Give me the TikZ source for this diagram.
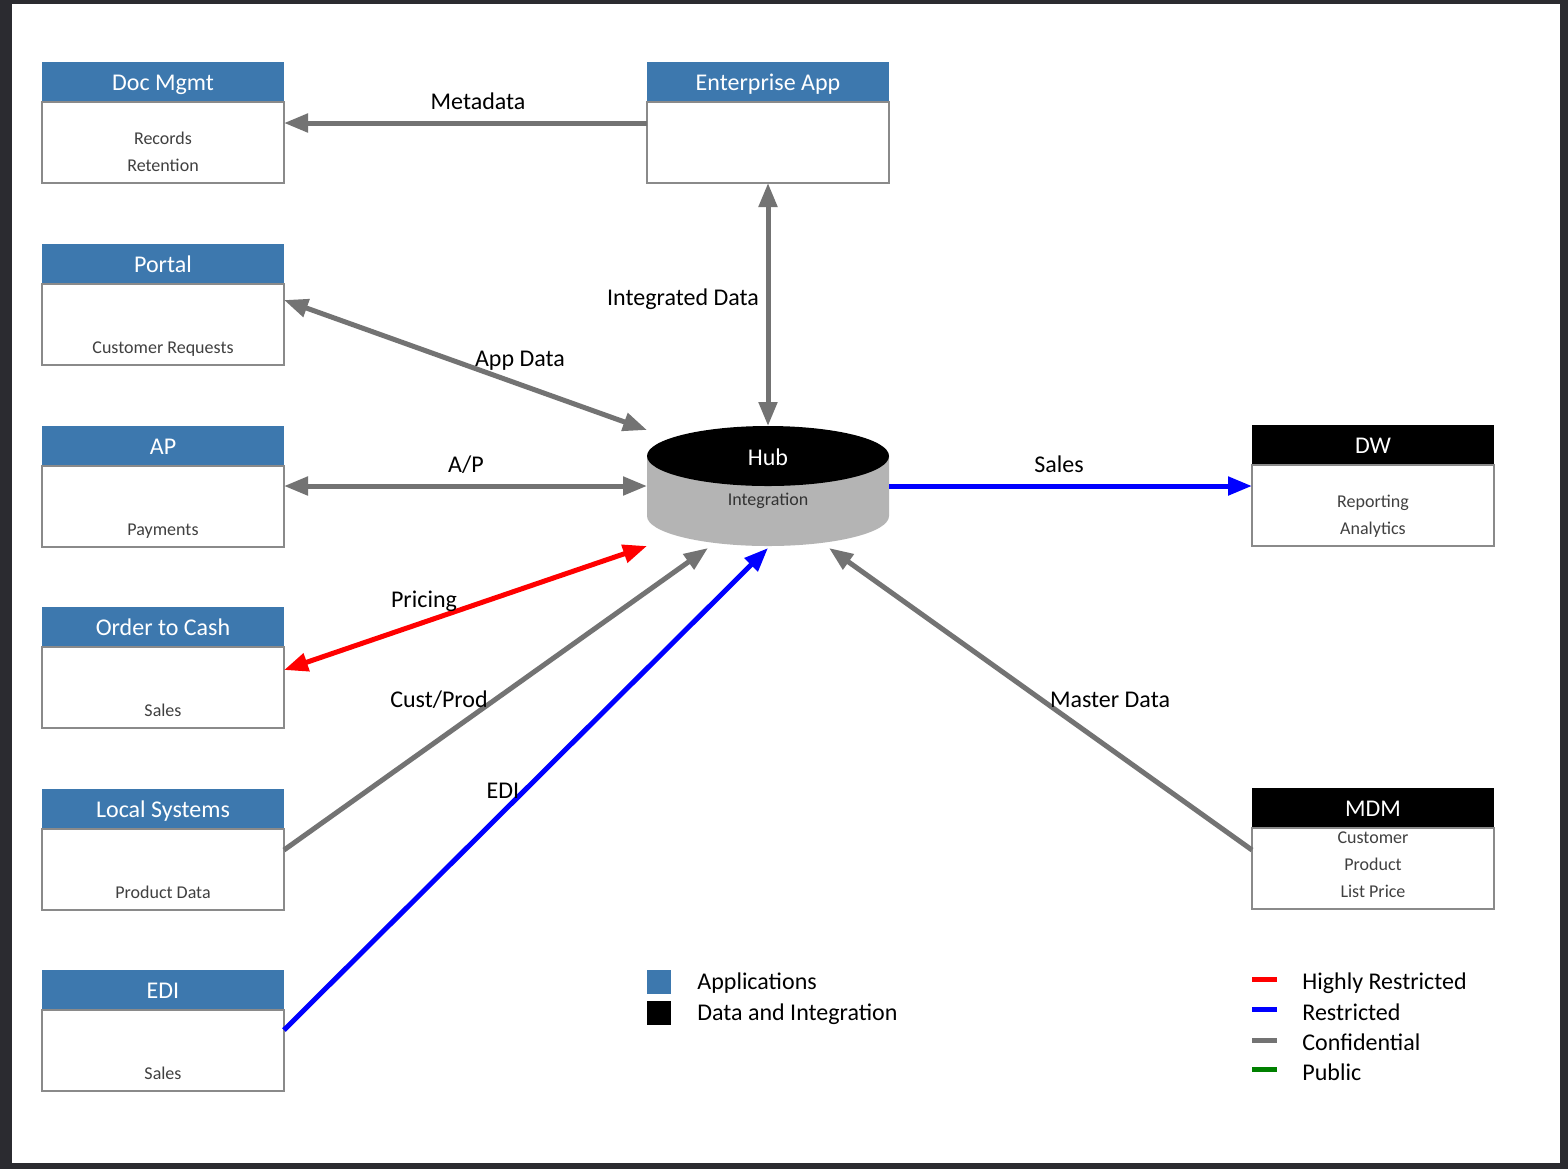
\documentclass[tikz,border=0pt]{standalone}
\usepackage{fontspec}
\setmainfont{Carlito}
\usepackage{tikz}
\usetikzlibrary{positioning,arrows.meta,calc}

\definecolor{appblue}{HTML}{3D78AE}
\definecolor{boxline}{HTML}{8A8A8A}
\definecolor{flowgray}{HTML}{737373}
\definecolor{hubgray}{HTML}{B4B4B4}
\definecolor{txtgray}{HTML}{404040}
\definecolor{framegray}{HTML}{2B2B30}
\definecolor{pubgreen}{HTML}{008000}

\tikzstyle{oneway} = [line width=2.5pt, -{Triangle[length=12pt,width=9pt]}]
\tikzstyle{twoway} = [line width=2.5pt, {Triangle[length=12pt,width=9pt]}-{Triangle[length=12pt,width=9pt]}]

\begin{document}
\begin{tikzpicture}[x=0.5pt, y=-0.5pt, font=\fontsize{12}{14}\selectfont,
		head/.style={minimum width=121pt, minimum height=20pt, inner sep=0pt, outer sep=0pt, fill=appblue, text=white, text height=10pt, text depth=2pt},
		body/.style={minimum width=121pt, minimum height=40.5pt, inner sep=0pt, outer sep=0pt, draw=boxline, line width=1pt},
		bodytxt/.style={font=\fontsize{9}{13.5}\selectfont, text=txtgray, align=center, anchor=base, inner sep=0pt},
		hubnode/.style={minimum width=121pt, minimum height=60pt, inner sep=0pt, outer sep=0pt},
		lbl/.style={anchor=base, inner sep=0pt},
		swatch/.style={minimum size=12pt, inner sep=0pt},
		bar/.style={minimum width=12.5pt, minimum height=2.5pt, inner sep=0pt},
		legtxt/.style={anchor=base west, inner sep=0pt},
	]

	% frame
	\fill[framegray] (0,0) rectangle (1568,1169);
	\fill[white] (12,4) rectangle (1560,1163);

	% applications
	\node[head] (dm-h) at (163,82) {Doc Mgmt};
	\node[body, below=0pt of dm-h] (dm-b) {};
	\node[bodytxt] (dm-t) at ([yshift=6pt]dm-b.south) {Records\\Retention};

	\node[head] (portal-h) at (163,264) {Portal};
	\node[body, below=0pt of portal-h] (portal-b) {};
	\node[bodytxt] (portal-t) at ([yshift=6pt]portal-b.south) {Customer Requests};

	\node[head] (ap-h) at (163,446) {AP};
	\node[body, below=0pt of ap-h] (ap-b) {};
	\node[bodytxt] (ap-t) at ([yshift=6pt]ap-b.south) {Payments};

	\node[head] (otc-h) at (163,627) {Order to Cash};
	\node[body, below=0pt of otc-h] (otc-b) {};
	\node[bodytxt] (otc-t) at ([yshift=6pt]otc-b.south) {Sales};

	\node[head] (local-h) at (163,809) {Local Systems};
	\node[body, below=0pt of local-h] (local-b) {};
	\node[bodytxt] (local-t) at ([yshift=6pt]local-b.south) {Product Data};

	\node[head] (edi-h) at (163,990) {EDI};
	\node[body, below=0pt of edi-h] (edi-b) {};
	\node[bodytxt] (edi-t) at ([yshift=6pt]edi-b.south) {Sales};

	\node[head] (ent-h) at (768,82) {Enterprise App};
	\node[body, below=0pt of ent-h] (ent-b) {};

	% data and integration
	\node[head, fill=black] (dw-h) at (1373,445) {DW};
	\node[body, below=0pt of dw-h] (dw-b) {};
	\node[bodytxt] (dw-t) at ([yshift=6pt]dw-b.south) {Reporting\\Analytics};

	\node[head, fill=black] (mdm-h) at (1373,808) {MDM};
	\node[body, below=0pt of mdm-h] (mdm-b) {};
	\node[bodytxt] (mdm-t) at ([yshift=6pt]mdm-b.south) {Customer\\Product\\List Price};

	% hub
	\node[hubnode] (hub) at (768,486) {};
	\fill[hubgray] ([yshift=-15pt]hub.north west) -- ([yshift=15pt]hub.south west)
		arc[start angle=180, end angle=360, x radius=60.5pt, y radius=15pt]
		-- ([yshift=-15pt]hub.north east) -- cycle;
	\fill[black] ([yshift=-15pt]hub.north) ellipse [x radius=60.5pt, y radius=15pt];
	\node[lbl, text=white] (hub-t) at (768,465) {Hub};
	\node[lbl, font=\fontsize{9}{11}\selectfont, text=black!80] (hub-s) at (768,505) {Integration};

	% flows
	\draw[oneway, flowgray] ([yshift=-10.5pt]ent-b.north west) -- ([yshift=-10.5pt]dm-b.north east);
	\draw[twoway, flowgray] (ent-b.south) -- (hub.north);
	\draw[twoway, flowgray] ([yshift=-8pt]portal-b.north east) -- ([yshift=-2pt]hub.north west);
	\draw[twoway, flowgray] (ap-b.east |- hub.west) -- (hub.west);
	\draw[twoway, red] ([yshift=-11.5pt]otc-b.north east) -- (hub.south west);
	\draw[oneway, flowgray] ([yshift=-10.5pt]local-b.north east) -- ([xshift=-30pt,yshift=-1pt]hub.south);
	\draw[oneway, blue] ([yshift=-10pt]edi-b.north east) -- ([yshift=-1pt]hub.south);
	\draw[oneway, flowgray] ([yshift=-11pt]mdm-b.north west) -- ([xshift=30.5pt,yshift=-1pt]hub.south);
	\draw[oneway, blue] (hub.east) -- (dw-b.west |- hub.east);

	% flow labels
	\node[lbl] (l-meta) at (478,109) {Metadata};
	\node[lbl] (l-int) at (683,305) {Integrated Data};
	\node[lbl] (l-app) at (520,366) {App Data};
	\node[lbl] (l-ap) at (466,472) {A/P};
	\node[lbl] (l-sales) at (1059,472) {Sales};
	\node[lbl] (l-price) at (424,607) {Pricing};
	\node[lbl] (l-cust) at (439,707) {Cust/Prod};
	\node[lbl] (l-edi) at (503,798) {EDI};
	\node[lbl] (l-mdm) at (1110,707) {Master Data};

	% legend
	\node[swatch, fill=appblue] (lg-app) at (659,982) {};
	\node[swatch, fill=black] (lg-data) at (659,1013) {};
	\node[legtxt] (lg-app-t) at (697,989) {Applications};
	\node[legtxt] (lg-data-t) at (697,1020) {Data and Integration};

	\node[bar, fill=red] (lg-hr) at (1264.5,979.5) {};
	\node[bar, fill=blue] (lg-r) at (1264.5,1009.5) {};
	\node[bar, fill=flowgray] (lg-c) at (1264.5,1040) {};
	\node[bar, fill=pubgreen] (lg-p) at (1264.5,1069.5) {};
	\node[legtxt] (lg-hr-t) at (1302,989) {Highly Restricted};
	\node[legtxt] (lg-r-t) at (1302,1020) {Restricted};
	\node[legtxt] (lg-c-t) at (1302,1050) {Confidential};
	\node[legtxt] (lg-p-t) at (1302,1080) {Public};
\end{tikzpicture}
\end{document}
